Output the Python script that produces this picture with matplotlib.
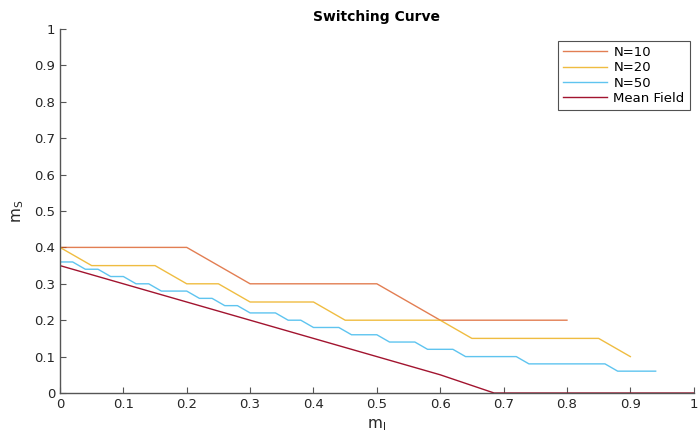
import numpy as np
import matplotlib
matplotlib.use("Agg")
import matplotlib.pyplot as plt

# switching curve data
x_n10 = [0.0, 0.1, 0.2, 0.3, 0.4, 0.5, 0.6, 0.7, 0.8]
y_n10 = [0.4, 0.4, 0.4, 0.3, 0.3, 0.3, 0.2, 0.2, 0.2]

x_n20 = [0.0, 0.05, 0.1, 0.15, 0.2, 0.25, 0.3, 0.35, 0.4, 0.45,
         0.5, 0.55, 0.6, 0.65, 0.7, 0.75, 0.8, 0.85, 0.9]
y_n20 = [0.4, 0.35, 0.35, 0.35, 0.3, 0.3, 0.25, 0.25, 0.25, 0.2,
         0.2, 0.2, 0.2, 0.15, 0.15, 0.15, 0.15, 0.15, 0.1]

x_n50 = [0.0, 0.02, 0.04, 0.06, 0.08, 0.10, 0.12, 0.14, 0.16, 0.18,
         0.20, 0.22, 0.24, 0.26, 0.28, 0.30, 0.32, 0.34, 0.36, 0.38,
         0.40, 0.42, 0.44, 0.46, 0.48, 0.50, 0.52, 0.54, 0.56, 0.58,
         0.60, 0.62, 0.64, 0.66, 0.68, 0.70, 0.72, 0.74, 0.76, 0.78,
         0.80, 0.82, 0.84, 0.86, 0.88, 0.90, 0.92, 0.94]
y_n50 = [0.36, 0.36, 0.34, 0.34, 0.32, 0.32, 0.30, 0.30, 0.28, 0.28,
         0.28, 0.26, 0.26, 0.24, 0.24, 0.22, 0.22, 0.22, 0.20, 0.20,
         0.18, 0.18, 0.18, 0.16, 0.16, 0.16, 0.14, 0.14, 0.14, 0.12,
         0.12, 0.12, 0.10, 0.10, 0.10, 0.10, 0.10, 0.08, 0.08, 0.08,
         0.08, 0.08, 0.08, 0.08, 0.06, 0.06, 0.06, 0.06]

x_mf = [0.0, 0.1, 0.2, 0.3, 0.4, 0.5, 0.6, 0.685, 1.0]
y_mf = [0.35, 0.30, 0.25, 0.20, 0.15, 0.10, 0.05, 0.0, 0.0]

ticks = np.round(np.arange(0, 1.01, 0.1), 1)
tick_labels = ["0", "0.1", "0.2", "0.3", "0.4", "0.5", "0.6", "0.7", "0.8", "0.9", "1"]

text_col = "#262626"
axis_col = "#555555"

fig = plt.figure(figsize=(7, 4.37), dpi=100)
ax = fig.add_axes([0.0857, 0.1007, 0.9053, 0.8329])

lw = 1.0
ax.plot(x_n10, y_n10, color="#d95319", lw=lw, alpha=0.75, label="N=10")
ax.plot(x_n20, y_n20, color="#edb120", lw=lw, alpha=0.85, label="N=20")
ax.plot(x_n50, y_n50, color="#4dbeee", lw=lw, alpha=0.9, label="N=50")
ax.plot(x_mf, y_mf, color="#a2142f", lw=lw, label="Mean Field")

ax.set_xlim(0, 1)
ax.set_ylim(0, 1)
ax.set_xticks(ticks)
ax.set_yticks(ticks)
ax.set_xticklabels(tick_labels)
ax.set_yticklabels(tick_labels)
ax.tick_params(direction="in", length=4, width=0.8, colors=axis_col,
               labelcolor=text_col, labelsize=9.5)

for s in ["top", "right"]:
    ax.spines[s].set_visible(False)
for s in ["left", "bottom"]:
    ax.spines[s].set_color(axis_col)
    ax.spines[s].set_linewidth(1.0)

ax.set_title("Switching Curve", fontsize=10, fontweight="bold", color="black", pad=6)
ax.set_xlabel("m$_\\mathregular{I}$", fontsize=11, color=text_col, labelpad=5)
ax.set_ylabel("m$_\\mathregular{S}$", fontsize=11, color=text_col, labelpad=6)

leg = ax.legend(loc="upper right", bbox_to_anchor=(0.994, 0.968), fontsize=9.5,
                frameon=True, fancybox=False, borderpad=0.4, handlelength=3.3,
                handletextpad=0.5, labelspacing=0.18, borderaxespad=0)
leg.get_frame().set_edgecolor("#262626")
leg.get_frame().set_linewidth(0.8)

fig.savefig("out.png", dpi=100)
